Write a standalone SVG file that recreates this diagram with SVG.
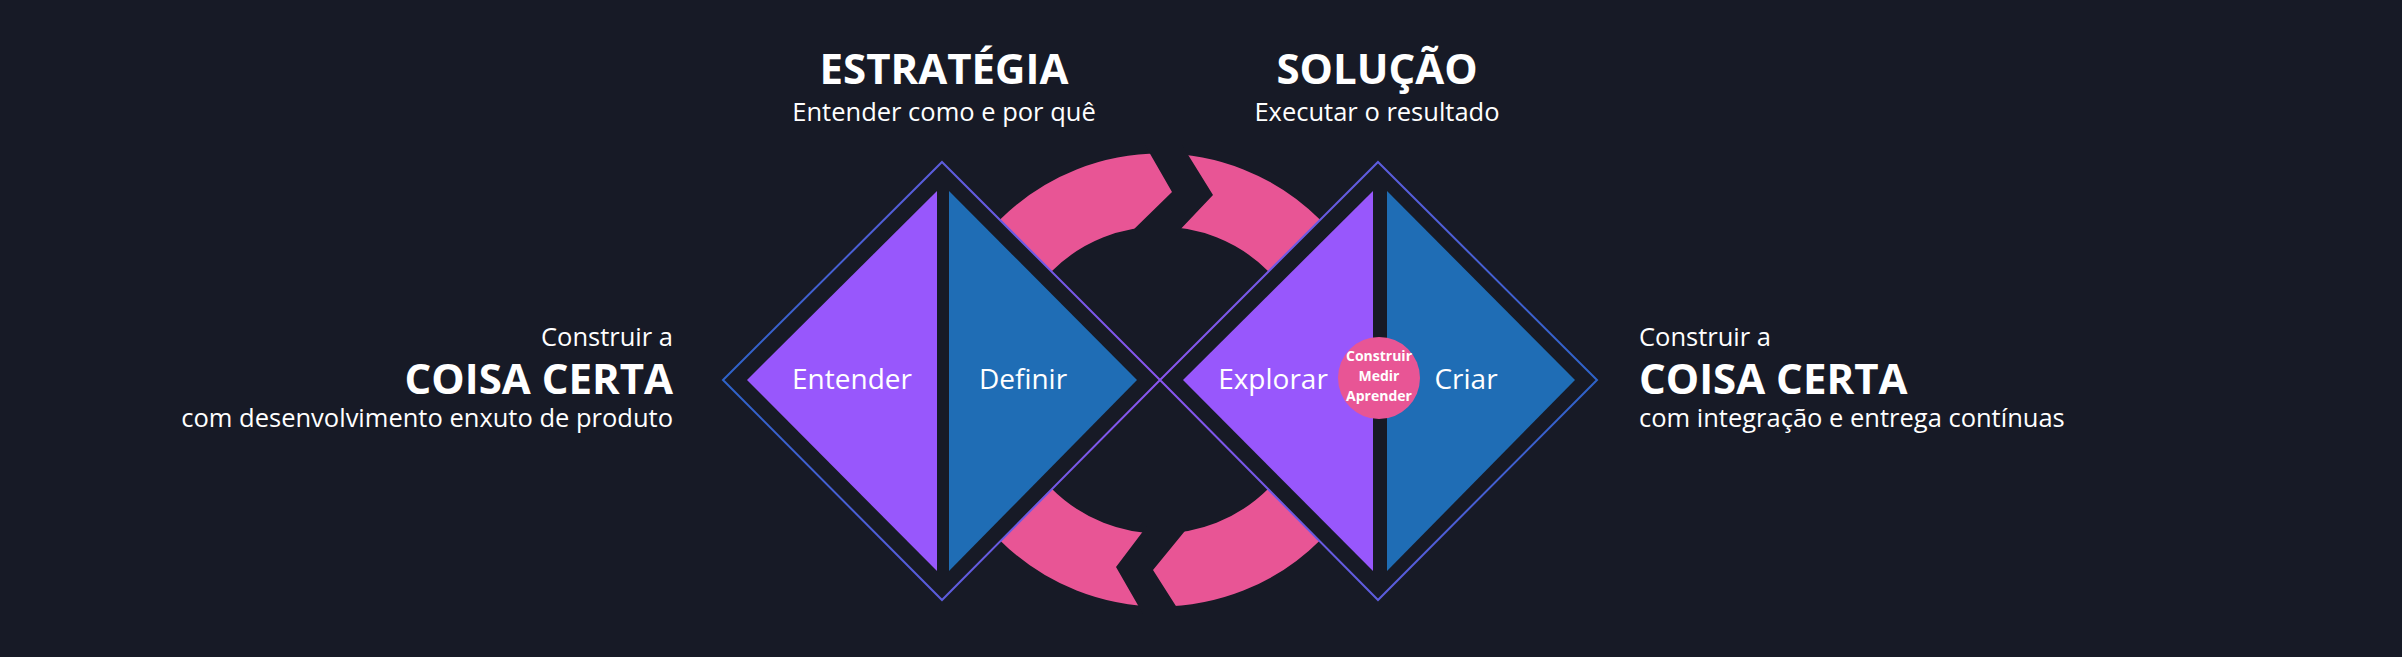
<svg xmlns="http://www.w3.org/2000/svg" width="2402" height="657" viewBox="0 0 2402 657">
<style>
text{font-family:"Open Sans","Noto Sans",sans-serif;fill:#fff}
.h{font-weight:700;font-size:42px}
.s{font-size:25.5px}
.l{font-size:28px;text-anchor:middle}
.c{font-size:14px;font-weight:700;text-anchor:middle}
</style>
<defs>
<linearGradient id="gl" x1="0" x2="1" y1="0" y2="0"><stop offset="0" stop-color="#2e63c9"/><stop offset="1" stop-color="#8a55f0"/></linearGradient>
<linearGradient id="gr" x1="0" x2="1" y1="0" y2="0"><stop offset="0" stop-color="#8a55f0"/><stop offset="1" stop-color="#2e63c9"/></linearGradient>
</defs>
<rect width="2402" height="657" fill="#171a26"/>
<g id="connectors">
<circle cx="1160" cy="380" r="190" fill="none" stroke="#e85595" stroke-width="73"/>
<polygon points="1145,145 1172,192 1129,234 1176,234 1213,195 1182,145" fill="#171a26"/>
<polygon points="1147,526 1116,567 1143,614 1181,614 1153,570 1189,526" fill="#171a26"/>
</g>
<g id="left-diamond">
<polygon points="942,162 1160,380 942,600 723,380" fill="#171a26" stroke="url(#gl)" stroke-width="2"/>
<polygon points="937,191 937,571 747,380" fill="#9857fc"/>
<polygon points="949,191 949,571 1137,380" fill="#1f6db5"/>
<text class="l" x="852" y="389">Entender</text>
<text class="l" x="1023" y="389">Definir</text>
</g>
<g id="right-diamond">
<polygon points="1378,162 1597,380 1378,600 1160,380" fill="#171a26" stroke="url(#gr)" stroke-width="2"/>
<polygon points="1373,191 1373,571 1183,380" fill="#9857fc"/>
<polygon points="1387,191 1387,571 1575,380" fill="#1f6db5"/>
<text class="l" x="1273" y="389">Explorar</text>
<text class="l" x="1466" y="389">Criar</text>
</g>
<g id="cycle">
<circle cx="1379" cy="378" r="41" fill="#e85595"/>
<text class="c" x="1379" y="361">Construir</text>
<text class="c" x="1379" y="381">Medir</text>
<text class="c" x="1379" y="401">Aprender</text>
</g>
<g id="top-labels">
<text class="h" x="944" y="84" text-anchor="middle">ESTRATÉGIA</text>
<text class="s" x="944" y="121" text-anchor="middle">Entender como e por quê</text>
<text class="h" x="1377" y="84" text-anchor="middle">SOLUÇÃO</text>
<text class="s" x="1377" y="121" text-anchor="middle">Executar o resultado</text>
</g>
<g id="left-text" text-anchor="end">
<text class="s" x="673" y="346">Construir a</text>
<text class="h" x="673" y="394">COISA CERTA</text>
<text class="s" x="673" y="427">com desenvolvimento enxuto de produto</text>
</g>
<g id="right-text">
<text class="s" x="1639" y="346">Construir a</text>
<text class="h" x="1639" y="394">COISA CERTA</text>
<text class="s" x="1639" y="427">com integração e entrega contínuas</text>
</g>
</svg>
